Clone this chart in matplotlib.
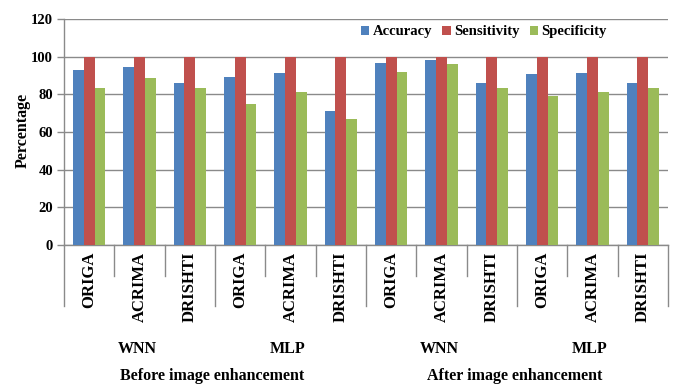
import numpy as np
import matplotlib
matplotlib.use("Agg")
import matplotlib.pyplot as plt
import matplotlib.transforms as mtransforms

# data
datasets = ["ORIGA", "ACRIMA", "DRISHTI"] * 4
classifiers = ["WNN", "MLP", "WNN", "MLP"]
stages = ["Before image enhancement", "After image enhancement"]

accuracy    = [93, 94.7, 85.8, 89, 91.2, 71.3, 96.5, 98.2, 85.8, 91, 91.2, 85.8]
sensitivity = [100, 100, 100, 100, 100, 100, 100, 100, 100, 100, 100, 100]
specificity = [83.2, 88.8, 83.2, 74.9, 81.4, 66.7, 91.7, 96.3, 83.2, 79.1, 81.4, 83.2]

series = [("Accuracy", accuracy, "#4F81BD"),
          ("Sensitivity", sensitivity, "#C0504D"),
          ("Specificity", specificity, "#9BBB59")]

plt.rcParams['font.family'] = ['Liberation Serif', 'DejaVu Serif']
plt.rcParams['font.weight'] = 'bold'

fig = plt.figure(figsize=(6.74, 3.88), dpi=100)
ax = fig.add_axes([64 / 674, 1 - 245 / 388, 604 / 674, 226 / 388])

n = len(datasets)
x = np.arange(n) + 0.5
w = 0.215
for i, (name, vals, col) in enumerate(series):
    ax.bar(x + (i - 1) * w, vals, w, color=col, label=name, zorder=3)

ax.set_xlim(0, n)
ax.set_ylim(0, 120)
ax.set_yticks(range(0, 121, 20))
ax.yaxis.grid(True, color="#8a8a8a", lw=1, zorder=0)
ax.tick_params(axis='y', length=5, width=1, color="#8a8a8a", pad=3, labelsize=10.5)
for t in ax.get_yticklabels():
    t.set_fontweight('bold')

ax.set_xticks(x)
ax.set_xticklabels(datasets, rotation=90, va='top', fontsize=12, fontweight='bold')
ax.tick_params(axis='x', length=0, pad=5)

for s in ["top", "right"]:
    ax.spines[s].set_visible(False)
for s in ["left", "bottom"]:
    ax.spines[s].set_color("#8a8a8a")
    ax.spines[s].set_linewidth(1)

# category separators below the axis: short ones between datasets,
# long ones between classifier groups
trans = mtransforms.blended_transform_factory(ax.transData, fig.transFigure)
for b in range(n + 1):
    bottom_px = 306 if b % 3 == 0 else 276
    ax.plot([b, b], [1 - 245 / 388, 1 - bottom_px / 388], transform=trans,
            color="#8a8a8a", lw=1, clip_on=False)

for k, name in enumerate(classifiers):
    ax.text(k * 3 + 1.45, 1 - 349 / 388, name, transform=trans,
            ha='center', va='center', fontsize=11.5, fontweight='bold')
for k, name in enumerate(stages):
    ax.text(k * 6 + 2.95, 1 - 376 / 388, name, transform=trans,
            ha='center', va='center', fontsize=11.5, fontweight='bold')

fig.text(23 / 674, 1 - 130 / 388, "Percentage", rotation=90, ha='center',
         va='center', fontsize=11.5, fontweight='bold')

ax.legend(loc='center', bbox_to_anchor=(484 / 674, 1 - 32 / 388),
          bbox_transform=fig.transFigure, ncol=3, frameon=False,
          handlelength=0.55, handleheight=0.55, handletextpad=0.25,
          columnspacing=0.7, prop={'size': 10.5, 'weight': 'bold'})

fig.savefig("out.png", dpi=100)
